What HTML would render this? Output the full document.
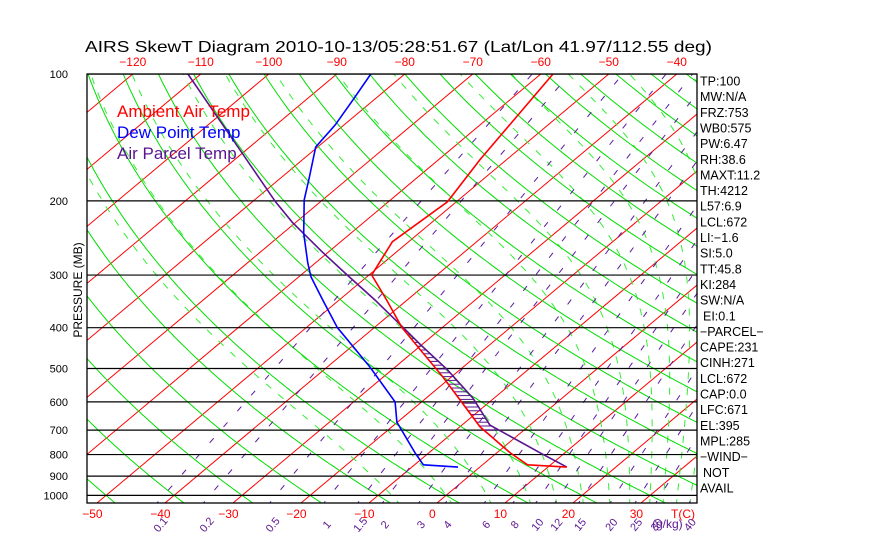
<!DOCTYPE html>
<html><head><meta charset="utf-8"><style>
html,body{margin:0;padding:0;background:#fff;}
svg{display:block;font-family:"Liberation Sans",sans-serif;}
</style></head><body>
<svg id="chart" width="870" height="560" viewBox="0 0 870 560" xmlns="http://www.w3.org/2000/svg">
<defs><clipPath id="box"><rect x="87" y="74" width="610" height="429"/></clipPath></defs>
<rect x="0" y="0" width="870" height="560" fill="#fff"/>
<text x="85" y="52" font-size="16" textLength="627" lengthAdjust="spacingAndGlyphs" fill="#000">AIRS SkewT Diagram 2010-10-13/05:28:51.67 (Lat/Lon 41.97/112.55 deg)</text>
<g id="bg" clip-path="url(#box)"></g>
<g id="data" clip-path="url(#box)"></g>
<g id="axes"></g>
<text x="117" y="117" font-size="17" fill="#ff0000">Ambient Air Temp</text>
<text x="117" y="138" font-size="17" fill="#0000ff">Dew Point Temp</text>
<text x="117" y="159" font-size="17" fill="#5a1490">Air Parcel Temp</text>
<text transform="translate(82,290) rotate(-90)" text-anchor="middle" font-size="12" fill="#000">PRESSURE (MB)</text>
</svg>
<script>
const tempP=[100,160,201,250,300,344,400,524,688,793,846,857];
const tempT=[-58.2,-53.9,-51.3,-52.4,-49.6,-43.0,-35.9,-21.2,-7.0,2.0,6.6,12.8];
const dewP=[100,115,132,149,176,199,239,281,303,344,400,428,496,600,670,793,846,857];
const dewT=[-85.0,-83.1,-81.3,-80.3,-75.9,-72.7,-66.9,-61.1,-58.2,-52.4,-45.4,-41.7,-33.7,-23.9,-20.1,-12.0,-8.7,-3.2];
const parcelP=[100,201,225,265,300,344,400,439,503,588,681,793,857];
const parcelT=[-111.9,-76.6,-70.5,-60.8,-53.2,-44.7,-35.7,-30.2,-21.9,-13.1,-5.9,6.4,12.8];
const pressureTicks=[100,200,300,400,500,600,700,800,900,1000];
const pressureLabels=["100","200","300","400","500","600","700","800","900","1000"];
const bottomTicks=[-50,-40,-30,-20,-10,0,10,20,30];
const topTicks=[-120,-110,-100,-90,-80,-70,-60,-50,-40];
const mixRatios=[0.1,0.2,0.5,1,1.5,2,3,4,6,8,10,12,15,20,25,30,40];
const mixLabels=["0.1","0.2","0.5","1","1.5","2","3","4","6","8","10","12","15","20","25","30","40"];
const moistStarts=[-8,0,6,12,16,20,24,27,30,32,34,36,38,40,42,44,48,52,56];
const stats=["TP:100","MW:N/A","FRZ:753","WB0:575","PW:6.47","RH:38.6","MAXT:11.2","TH:4212","L57:6.9","LCL:672","LI:\u22121.6","SI:5.0","TT:45.8","KI:284","SW:N/A","EI:0.1","\u2212PARCEL\u2212","CAPE:231","CINH:271","LCL:672","CAP:0.0","LFC:671","EL:395","MPL:285","\u2212WIND\u2212","NOT","AVAIL"];

const NS="http://www.w3.org/2000/svg";
function Y(p){return 74+183*Math.log(p/100);}
function pY(y){return 100*Math.exp((y-74)/183);}
function X(T,p){return 437+6.8*T+(503-Y(p))*1.193;}
function mk(tag,attrs,parent){const e=document.createElementNS(NS,tag);for(const k in attrs)e.setAttribute(k,attrs[k]);parent.appendChild(e);return e;}
const bg=document.getElementById('bg'),dg=document.getElementById('data'),ax=document.getElementById('axes');
const plevs=[];for(let p=95;p<=1060;p+=5)plevs.push(p);
function ptsStr(arr){return arr.map(a=>a[0].toFixed(1)+','+a[1].toFixed(1)).join(' ');}

for(let T=-180;T<=50;T+=10){
  const e=mk('line',{x1:X(T,1060),y1:Y(1060),x2:X(T,95),y2:Y(95),stroke:'#ff0000','stroke-width':1},bg);
  
  
}
function dTdp(T,p){const es=6.112*Math.exp(17.67*(T-273.15)/(T-29.65));const rs=0.622*es/Math.max(p-es,1);
  const Rd=287,cp=1004,L=2.5e6;return ((Rd*T+L*rs)/p)/(cp+L*L*rs*0.622/(Rd*T*T));}
moistStarts.forEach(T0=>{
  let pts=[];let T=T0+273.15;
  for(let p=1000;p>=100;p-=2){pts.push([X(T-273.15,p),Y(p)]);T-=dTdp(T,p)*2;}
  T=T0+273.15;const low=[];
  for(let p=1000;p<=1060;p+=2){low.push([X(T-273.15,p),Y(p)]);T+=dTdp(T,p)*2;}
  pts=low.reverse().concat(pts);
  const e=mk('polyline',{points:ptsStr(pts),fill:'none',stroke:'#33ee33','stroke-width':1,'stroke-dasharray':'7 9'},bg);
  
  
});
for(let T0=-60;T0<=200;T0+=10){
  const th=T0+273.15;
  const pts=plevs.map(p=>[X(th*Math.pow(p/1000,0.286)-273.15,p),Y(p)]);
  const e=mk('polyline',{points:ptsStr(pts),fill:'none',stroke:'#00dd00','stroke-width':1},bg);
  
  
}
function tdw(w,p){const e=w*p/(622+w);const l=Math.log(e/6.112);return 243.5*l/(17.67-l);}
mixRatios.forEach((w,i)=>{
  const pts=[1060,100].map(p=>[X(tdw(w,p),p),Y(p)]);
  const e=mk('polyline',{points:ptsStr(pts),fill:'none',stroke:'#5a1aa0','stroke-width':1,'stroke-dasharray':'6 15'},bg);
  
  
  const x=X(tdw(w,1000),1000);
  const t=mk('text',{x:0,y:0,transform:`translate(${x.toFixed(1)},527) rotate(-50)`,'font-size':11,fill:'#5a1490','text-anchor':'middle'},ax);
  t.textContent=mixLabels[i];
  
  
});
{const t=mk('text',{x:652,y:528,'font-size':12,fill:'#5a1490'},ax);t.textContent='(g/kg)';

}
pressureTicks.forEach((p,i)=>{
  const e=mk('line',{x1:87,x2:697,y1:Y(p),y2:Y(p),stroke:'#000','stroke-width':1.2},bg);
  
  
  const t=mk('text',{x:68,y:Y(p)+4,'font-size':11,fill:'#000','text-anchor':'end'},ax);
  t.textContent=pressureLabels[i];
  
  
});
function interp(P,T,p){for(let i=0;i<P.length-1;i++){if(p>=P[i]&&p<=P[i+1]){const f=Math.log(p/P[i])/Math.log(P[i+1]/P[i]);return T[i]+f*(T[i+1]-T[i]);}}return null;}
for(let y=331;y<=430;y+=3.8){
  const p=pY(y);const ta=interp(tempP,tempT,p),tp=interp(parcelP,parcelT,p);
  if(ta!==null&&tp!==null&&tp>ta){
    const e=mk('line',{x1:X(ta,p),x2:X(tp,p),y1:y,y2:y,stroke:'#5a1490','stroke-width':1},dg);
    
    
  }
}
function profile(P,T,color,name){
  const pts=P.map((p,i)=>[X(T[i],p),Y(p)]);
  const e=mk('polyline',{points:ptsStr(pts),fill:'none',stroke:color,'stroke-width':1.6},dg);
  
  
}
profile(parcelP,parcelT,'#5a1490','parcel-temp-line');
profile(dewP,dewT,'#0000ff','dewpoint-line');
profile(tempP,tempT,'#ff0000','ambient-temp-line');
{const e=mk('rect',{x:87,y:74,width:610,height:429,fill:'none',stroke:'#000','stroke-width':1.3},ax);

}
bottomTicks.forEach(T=>{
  const t=mk('text',{x:X(T,1060)-1,y:518,'font-size':12,fill:'#ff0000','text-anchor':'middle'},ax);
  t.textContent=(T<0?'\u2212':'')+Math.abs(T);
  
  
});
{const t=mk('text',{x:683,y:518,'font-size':12,fill:'#ff0000','text-anchor':'middle'},ax);t.textContent='T(C)';

}
topTicks.forEach(T=>{
  const t=mk('text',{x:X(T,100),y:66,'font-size':12,fill:'#ff0000','text-anchor':'middle'},ax);
  t.textContent='\u2212'+Math.abs(T);
  
  
});
stats.forEach((s,i)=>{
  const t=mk('text',{x:i===15||i===25?703:700,y:85.5+i*15.65,'font-size':12.5,fill:'#000'},ax);
  t.textContent=s;
  
  
});
</script>
</body></html>
